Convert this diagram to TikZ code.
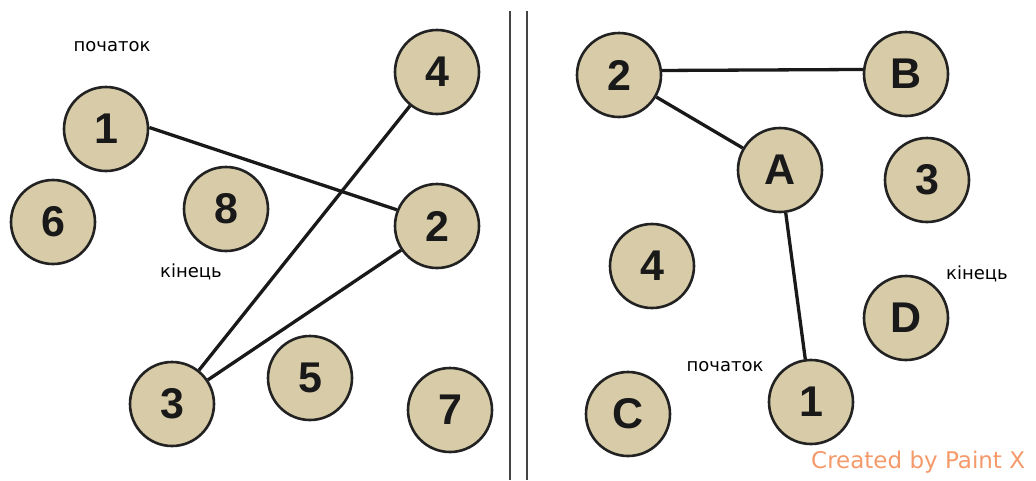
\documentclass[tikz,border=0pt]{standalone}
\usepackage{fontspec}
\setmainfont{Liberation Sans}
\newfontfamily\lblfont{DejaVu Sans}
\definecolor{nodefill}{HTML}{D8CCA8}
\definecolor{nodeedge}{HTML}{222222}
\definecolor{divider}{HTML}{444444}
\definecolor{wmark}{HTML}{F59A6A}
\begin{document}
\begin{tikzpicture}[x=1pt,y=-1pt,
  vert/.style={circle,draw=nodeedge,line width=2.6pt,fill=nodefill,minimum size=84pt,inner sep=0pt,
    font=\bfseries\fontsize{43}{43}\selectfont,text=black!90},
  lbl/.style={font=\lblfont\fontsize{18}{18}\selectfont,inner sep=0pt},
  edge/.style={draw=black!90,line width=3.3pt},
  divline/.style={draw=divider,line width=2.4pt}]
\useasboundingbox[fill=white] (0,0) rectangle (1036,480);
% divider
\coordinate (d1t) at (510,11); \coordinate (d1b) at (510,480);
\coordinate (d2t) at (527,11); \coordinate (d2b) at (527,480);
\draw[divline] (d1t) -- (d1b);
\draw[divline] (d2t) -- (d2b);
% left graph nodes
\node[vert] (L1) at (106,129) {1};
\node[vert] (L6) at (53,222) {6};
\node[vert] (L8) at (226,209) {8};
\node[vert] (L4) at (437,72) {4};
\node[vert] (L2) at (437,226) {2};
\node[vert] (L3) at (172,404) {3};
\node[vert] (L5) at (310,378) {5};
\node[vert] (L7) at (450,410) {7};
% right graph nodes
\node[vert] (R2) at (619,75) {2};
\node[vert] (RB) at (906,74) {B};
\node[vert] (RA) at (780,170) {A};
\node[vert] (R3) at (927,180) {3};
\node[vert] (R4) at (652,266) {4};
\node[vert] (RD) at (906,318) {D};
\node[vert] (RC) at (628,414) {C};
\node[vert] (R1) at (811,402) {1};
% edges
\path[edge] (L1.2) -- (L2.158);
\path[edge] (L4) -- (L3);
\path[edge] (L2) -- (L3);
\path[edge] (R2.6) -- (RB.174);
\path[edge] (R2) -- (RA);
\path[edge] (RA) -- (R1);
% labels
\node[lbl] (Lstart) at (112,47) {початок};
\node[lbl] (Lend) at (191,272) {кінець};
\node[lbl] (Rstart) at (725,367) {початок};
\node[lbl] (Rend) at (977,274) {кінець};
% watermark
\node[font=\lblfont\fontsize{23}{23}\selectfont,text=wmark,inner sep=0pt,anchor=west] (wm) at (811,462) {Created by Paint X};
\end{tikzpicture}
\end{document}
